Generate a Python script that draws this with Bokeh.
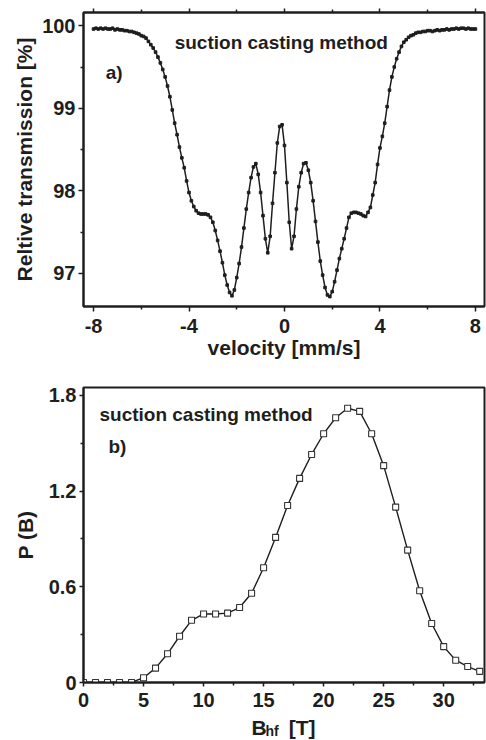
from bokeh.plotting import figure
from bokeh.models import FixedTicker, LinearAxis, Label, Range1d
from bokeh.layouts import column
from bokeh.core.properties import value
from bokeh.embed import file_html
from bokeh.resources import INLINE

# ---------------- data ----------------
velocity = [
    -8.0, -7.9, -7.8, -7.7, -7.6, -7.5, -7.4, -7.3, -7.2, -7.1,
    -7.0, -6.9, -6.8, -6.7, -6.6, -6.5, -6.4, -6.3, -6.2, -6.1,
    -6.0, -5.9, -5.8, -5.7, -5.6, -5.5, -5.4, -5.3, -5.2, -5.1,
    -5.0, -4.9, -4.8, -4.7, -4.6, -4.5, -4.4, -4.3, -4.2, -4.1,
    -4.0, -3.9, -3.8, -3.7, -3.6, -3.5, -3.4, -3.3, -3.2, -3.1,
    -3.0, -2.9, -2.8, -2.7, -2.6, -2.5, -2.4, -2.3, -2.2, -2.1,
    -2.0, -1.9, -1.8, -1.7, -1.6, -1.5, -1.4, -1.3, -1.2, -1.1,
    -1.0, -0.9, -0.8, -0.7, -0.6, -0.5, -0.4, -0.3, -0.2, -0.1,
    0.0, 0.1, 0.2, 0.3, 0.4, 0.5, 0.6, 0.7, 0.8, 0.9,
    1.0, 1.1, 1.2, 1.3, 1.4, 1.5, 1.6, 1.7, 1.8, 1.9,
    2.0, 2.1, 2.2, 2.3, 2.4, 2.5, 2.6, 2.7, 2.8, 2.9,
    3.0, 3.1, 3.2, 3.3, 3.4, 3.5, 3.6, 3.7, 3.8, 3.9,
    4.0, 4.1, 4.2, 4.3, 4.4, 4.5, 4.6, 4.7, 4.8, 4.9,
    5.0, 5.1, 5.2, 5.3, 5.4, 5.5, 5.6, 5.7, 5.8, 5.9,
    6.0, 6.1, 6.2, 6.3, 6.4, 6.5, 6.6, 6.7, 6.8, 6.9,
    7.0, 7.1, 7.2, 7.3, 7.4, 7.5, 7.6, 7.7, 7.8, 7.9,
    8.0,
]
transmission = [
    99.96, 99.97, 99.96, 99.97, 99.96, 99.97, 99.96, 99.96, 99.97, 99.95,
    99.96, 99.95, 99.95, 99.94, 99.94, 99.93, 99.93, 99.92, 99.91, 99.90,
    99.88, 99.87, 99.85, 99.81, 99.77, 99.73, 99.68, 99.62, 99.55, 99.47,
    99.38, 99.27, 99.14, 98.98, 98.82, 98.68, 98.53, 98.40, 98.28, 98.12,
    97.98, 97.88, 97.81, 97.76, 97.73, 97.72, 97.72, 97.72, 97.71, 97.68,
    97.62, 97.52, 97.40, 97.27, 97.13, 96.98, 96.86, 96.77, 96.73, 96.80,
    96.95, 97.12, 97.32, 97.55, 97.78, 97.98, 98.16, 98.29, 98.33, 98.20,
    97.98, 97.70, 97.42, 97.25, 97.45, 97.85, 98.22, 98.58, 98.78, 98.80,
    98.55, 98.10, 97.62, 97.30, 97.45, 97.78, 98.05, 98.22, 98.33, 98.34,
    98.25, 98.10, 97.88, 97.63, 97.38, 97.15, 96.98, 96.83, 96.74, 96.72,
    96.78, 96.90, 97.04, 97.18, 97.30, 97.42, 97.55, 97.68, 97.73, 97.74,
    97.74, 97.73, 97.72, 97.70, 97.69, 97.74, 97.80, 97.95, 98.10, 98.32,
    98.52, 98.66, 98.82, 99.02, 99.22, 99.38, 99.50, 99.60, 99.68, 99.75,
    99.80, 99.83, 99.86, 99.88, 99.89, 99.91, 99.92, 99.92, 99.93, 99.93,
    99.94, 99.94, 99.93, 99.94, 99.95, 99.94, 99.95, 99.95, 99.96, 99.95,
    99.96, 99.96, 99.97, 99.96, 99.97, 99.97, 99.96, 99.97, 99.96, 99.96,
    99.96,
]

b_hf = [0, 1, 2, 3, 4, 5, 6, 7, 8, 9, 10, 11, 12, 13, 14, 15, 16,
        17, 18, 19, 20, 21, 22, 23, 24, 25, 26, 27, 28, 29, 30, 31, 32, 33]
p_b = [0.0, 0.0, 0.0, 0.0, 0.0, 0.03, 0.09, 0.18, 0.29, 0.39, 0.43, 0.43,
       0.435, 0.47, 0.56, 0.72, 0.91, 1.11, 1.28, 1.43, 1.56, 1.66, 1.72,
       1.70, 1.56, 1.36, 1.10, 0.83, 0.575, 0.37, 0.225, 0.14, 0.10, 0.07]

top_xticks = [-8, -4, 0, 4, 8]
top_xminor = [-6, -2, 2, 6]
top_yticks = [97, 98, 99, 100]
top_yminor = [97.5, 98.5, 99.5]
bot_xticks = [0, 5, 10, 15, 20, 25, 30]
bot_xminor = [2.5, 7.5, 12.5, 17.5, 22.5, 27.5, 32.5]
bot_yticks = [0, 0.6, 1.2, 1.8]
bot_yminor = [0.3, 0.9, 1.5]
bot_ylabels = {0: "0", 0.6: "0.6", 1.2: "1.2", 1.8: "1.8"}
top_xlabels = {-8: "-8", -4: "-4", 0: "0", 4: "4", 8: "8"}

FONT = "Liberation Sans"
INK = "#1e1e1e"
TICK_FS = "20px"
LABEL_FS = "21px"
NOTE_FS = "19px"


def style_axis(ax, tick_out=5, standoff=4, label_standoff=2):
    ax.axis_line_color = INK
    ax.axis_line_width = 2
    ax.major_tick_line_color = INK
    ax.major_tick_line_width = 1.5
    ax.minor_tick_line_color = INK
    ax.minor_tick_line_width = 1.5
    ax.major_tick_in = 0
    ax.major_tick_out = tick_out
    ax.minor_tick_in = 0
    ax.minor_tick_out = 3
    ax.major_label_text_font = FONT
    ax.major_label_text_font_style = "bold"
    ax.major_label_text_font_size = TICK_FS
    ax.major_label_text_color = INK
    ax.major_label_standoff = standoff
    ax.axis_label_text_font = FONT
    ax.axis_label_text_font_style = "bold"
    ax.axis_label_text_font_size = LABEL_FS
    ax.axis_label_text_color = INK
    ax.axis_label_standoff = label_standoff


def note(p, x, y, text, size=NOTE_FS):
    p.add_layout(Label(x=x, y=y, text=text, text_font=FONT,
                       text_font_style="bold", text_font_size=size,
                       text_color=INK, text_baseline="alphabetic"))


# ---------------- top panel ----------------
p1 = figure(width=486, height=370, output_backend="svg", toolbar_location=None,
            x_range=Range1d(-8.42, 8.38), y_range=Range1d(96.6, 100.16),
            min_border_left=83, min_border_right=2, min_border_top=12,
            min_border_bottom=64)
p1.xgrid.visible = False
p1.ygrid.visible = False
p1.outline_line_color = INK
p1.outline_line_width = 2
p1.background_fill_color = "white"
p1.border_fill_color = "white"

p1.xaxis.ticker = FixedTicker(ticks=top_xticks, minor_ticks=top_xminor)
p1.yaxis.ticker = FixedTicker(ticks=top_yticks, minor_ticks=top_yminor)
p1.xaxis.major_label_overrides = top_xlabels
p1.xaxis.axis_label = "velocity [mm/s]"
p1.yaxis.axis_label = "Reltive transmission [%]"
style_axis(p1.xaxis[0], tick_out=5, standoff=7, label_standoff=0)
style_axis(p1.yaxis[0], tick_out=5, standoff=3, label_standoff=3)

# mirrored tick marks on the top edge (no labels)
top_axis = LinearAxis(ticker=FixedTicker(ticks=top_xticks, minor_ticks=top_xminor))
style_axis(top_axis, tick_out=4, standoff=0)
top_axis.major_label_overrides = {t: "" for t in top_xticks}
p1.add_layout(top_axis, "above")

p1.line(velocity, transmission, line_color=INK, line_width=1.5)
p1.scatter(velocity, transmission, marker="square", size=2.6,
           fill_color=INK, line_color=INK)

note(p1, -4.6, 99.80, "suction casting method")
note(p1, -7.49, 99.43, "a)")

# ---------------- bottom panel ----------------
p2 = figure(width=486, height=340, output_backend="svg", toolbar_location=None,
            x_range=Range1d(0, 33.4), y_range=Range1d(0, 1.85),
            min_border_left=83, min_border_right=2, min_border_top=17,
            min_border_bottom=28)
p2.xgrid.visible = False
p2.ygrid.visible = False
p2.outline_line_color = INK
p2.outline_line_width = 2
p2.background_fill_color = "white"
p2.border_fill_color = "white"

p2.xaxis.ticker = FixedTicker(ticks=bot_xticks, minor_ticks=bot_xminor)
p2.yaxis.ticker = FixedTicker(ticks=bot_yticks, minor_ticks=bot_yminor)
p2.yaxis.major_label_overrides = bot_ylabels
p2.yaxis.axis_label = "P (B)"
style_axis(p2.xaxis[0], tick_out=4, standoff=6, label_standoff=0)
style_axis(p2.yaxis[0], tick_out=4, standoff=3, label_standoff=9)

p2.line(b_hf, p_b, line_color=INK, line_width=1.4)
p2.scatter(b_hf, p_b, marker="square", size=6, fill_color="white",
           line_color="#333333", line_width=1.1)

note(p2, 1.33, 1.68, "suction casting method")
note(p2, 2.08, 1.48, "b)")

# ---------------- x-axis title strip for bottom panel: B_hf [T] ----------------
p3 = figure(width=486, height=30, output_backend="svg", toolbar_location=None,
            x_range=p2.x_range, y_range=Range1d(0, 30),
            x_axis_type=None, y_axis_type=None,
            min_border_left=83, min_border_right=2, min_border_top=0,
            min_border_bottom=0)
p3.xgrid.visible = False
p3.ygrid.visible = False
p3.outline_line_color = None
p3.background_fill_color = "white"
p3.border_fill_color = "white"
p3.text(x=[14.0], y=[13], text=["B"], text_font=value(FONT),
        text_font_style="bold", text_font_size=LABEL_FS, text_color=INK,
        text_baseline="alphabetic")
p3.text(x=[15.15], y=[9.5], text=["hf"], text_font=value(FONT),
        text_font_style="bold", text_font_size="14px", text_color=INK,
        text_baseline="alphabetic")
p3.text(x=[17.1], y=[13], text=["[T]"], text_font=value(FONT),
        text_font_style="bold", text_font_size=LABEL_FS, text_color=INK,
        text_baseline="alphabetic")

layout = column(p1, p2, p3, spacing=0)
open("out.html", "w").write(file_html(layout, INLINE))
